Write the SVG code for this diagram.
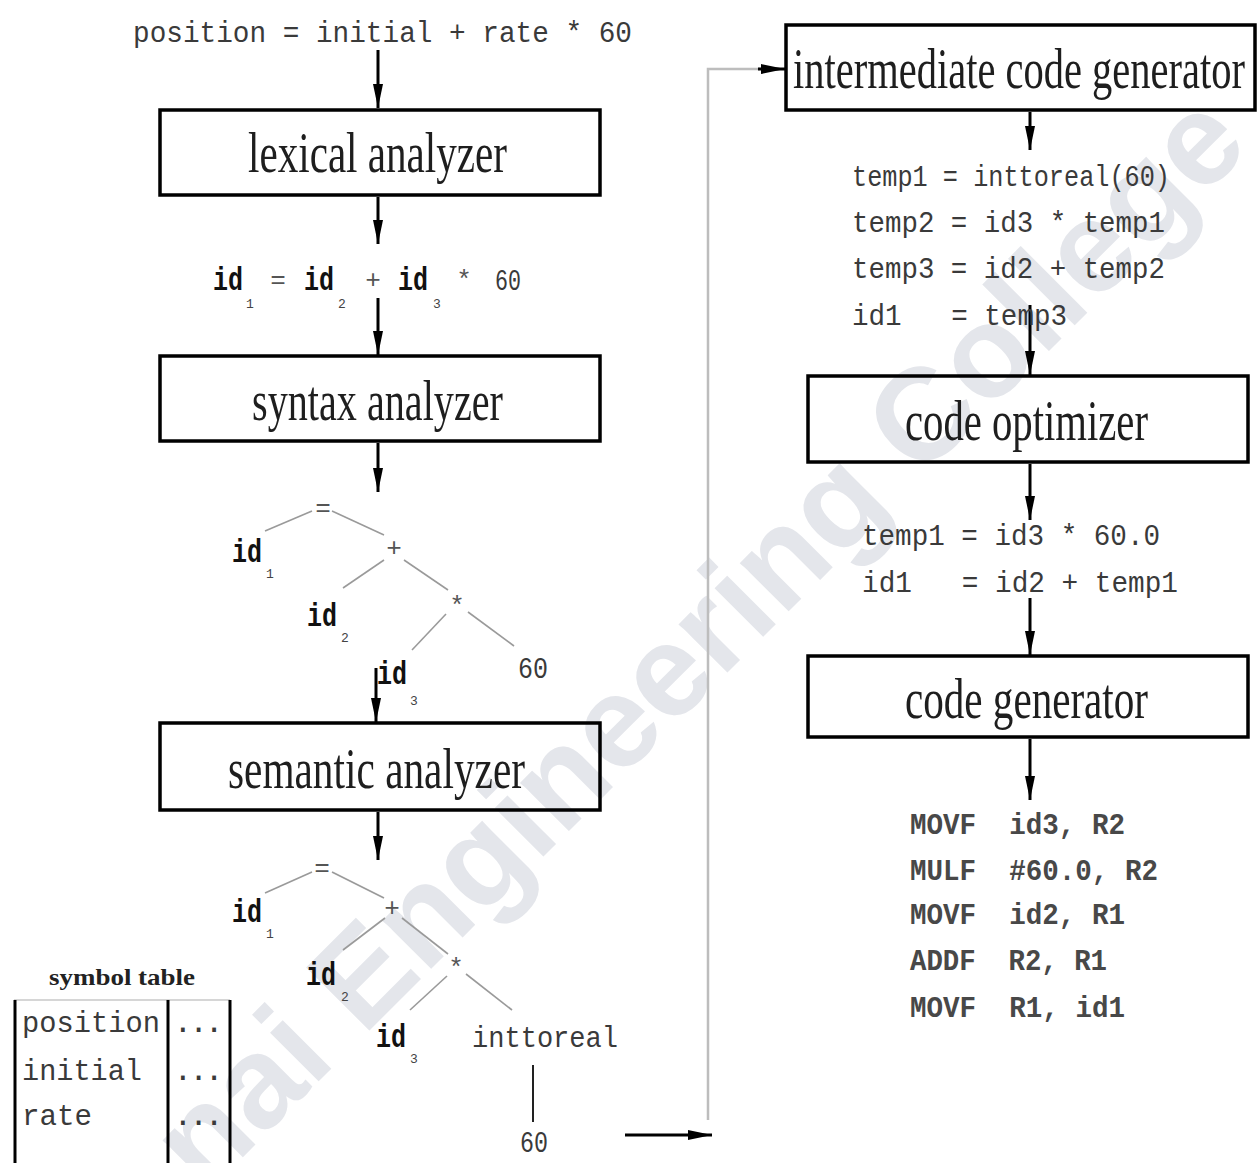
<svg xmlns="http://www.w3.org/2000/svg" width="1259" height="1163" viewBox="0 0 1259 1163">
  <style>
    .box { fill: none; stroke: #000; stroke-width: 3.5; }
    .lbl { font-family: "Liberation Serif", "Times New Roman", serif; font-size: 58px; fill: #1e1e1e; }
    .mono { font-family: "Liberation Mono", "Courier New", monospace; fill: #3a3a3a; }
    .code { font-size: 30px; }
    .asm { font-weight: bold; fill: #484848; }
    .id { font-family: "Liberation Mono", "Courier New", monospace; font-weight: bold; font-size: 34px; fill: #111; }
    .sub { font-family: "Liberation Mono", "Courier New", monospace; font-size: 13px; fill: #444; }
    .op { font-family: "Liberation Mono", "Courier New", monospace; font-size: 26px; fill: #555; text-anchor: middle; }
    .flow { stroke: #000; stroke-width: 3; fill: none; marker-end: url(#head); }
    .edge { stroke: #9a9a9a; stroke-width: 1.6; fill: none; }
    .mark { font-family: "Liberation Sans", Arial, sans-serif; font-weight: bold; font-size: 130px; fill: #e4e6eb; }
  </style>
  <defs>
    <marker id="head" markerUnits="userSpaceOnUse" markerWidth="26" markerHeight="12" refX="24" refY="6" orient="auto">
      <path d="M0,1 L24,6 L0,11 z" fill="#000"/>
    </marker>
  </defs>

  <rect width="1259" height="1163" fill="#fff"/>

  <!-- background watermark -->
  <text class="mark" transform="translate(205,1195) rotate(-45)">nai Engineering College</text>

  <!-- connectors -->
  <g id="connectors">
    <line class="flow" x1="378" y1="50" x2="378" y2="108"/>
    <line class="flow" x1="378" y1="197" x2="378" y2="244"/>
    <line class="flow" x1="378" y1="298" x2="378" y2="355"/>
    <line class="flow" x1="378" y1="443" x2="378" y2="492"/>
    <line class="flow" x1="376" y1="668" x2="376" y2="722"/>
    <line class="flow" x1="378" y1="812" x2="378" y2="860"/>
    <line class="flow" x1="625" y1="1135" x2="712" y2="1135"/>
    <!-- return path into the intermediate code generator -->
    <polyline points="708,1120 708,69 760,69" stroke="#bdbdbd" stroke-width="2.5" fill="none"/>
    <line class="flow" x1="758" y1="69" x2="785" y2="69"/>
    <line class="flow" x1="1030" y1="112" x2="1030" y2="150"/>
    <line class="flow" x1="1030" y1="305" x2="1030" y2="375"/>
    <line class="flow" x1="1030" y1="464" x2="1030" y2="520"/>
    <line class="flow" x1="1030" y1="598" x2="1030" y2="655"/>
    <line class="flow" x1="1030" y1="739" x2="1030" y2="800"/>
  </g>

  <!-- source statement -->
  <g id="source">
    <text class="mono code" x="133" y="42" textLength="499" lengthAdjust="spacingAndGlyphs">position = initial + rate * 60</text>
  </g>

  <g id="lexical-analyzer">
    <rect class="box" x="160" y="110" width="440" height="85"/>
    <text class="lbl" x="248" y="172" textLength="259" lengthAdjust="spacingAndGlyphs">lexical analyzer</text>
  </g>

  <g id="tokens">
    <text class="id" x="213" y="290" textLength="30" lengthAdjust="spacingAndGlyphs">id</text>
    <text class="sub" x="246" y="308">1</text>
    <text class="op" x="278" y="288">=</text>
    <text class="id" x="304" y="290" textLength="30" lengthAdjust="spacingAndGlyphs">id</text>
    <text class="sub" x="338" y="308">2</text>
    <text class="op" x="373" y="288">+</text>
    <text class="id" x="398" y="290" textLength="30" lengthAdjust="spacingAndGlyphs">id</text>
    <text class="sub" x="433" y="308">3</text>
    <text class="op" x="464" y="288">*</text>
    <text class="mono" x="495" y="290" font-size="30" textLength="26" lengthAdjust="spacingAndGlyphs">60</text>
  </g>

  <g id="syntax-analyzer">
    <rect class="box" x="160" y="356" width="440" height="85"/>
    <text class="lbl" x="252" y="420" textLength="251" lengthAdjust="spacingAndGlyphs">syntax analyzer</text>
  </g>

  <!-- syntax tree -->
  <g id="syntax-tree">
    <line class="edge" x1="312" y1="511" x2="265" y2="531"/>
    <line class="edge" x1="332" y1="511" x2="384" y2="535"/>
    <line class="edge" x1="384" y1="560" x2="343" y2="588"/>
    <line class="edge" x1="404" y1="560" x2="448" y2="590"/>
    <line class="edge" x1="446" y1="614" x2="412" y2="650"/>
    <line class="edge" x1="468" y1="612" x2="514" y2="646"/>
    <text class="op" x="323" y="516" font-size="22">=</text>
    <text class="id" x="232" y="562" textLength="30" lengthAdjust="spacingAndGlyphs">id</text>
    <text class="sub" x="266" y="578">1</text>
    <text class="op" x="394" y="556" font-size="22">+</text>
    <text class="id" x="307" y="626" textLength="30" lengthAdjust="spacingAndGlyphs">id</text>
    <text class="sub" x="341" y="642">2</text>
    <text class="op" x="457" y="614" font-size="22">*</text>
    <text class="id" x="377" y="684" textLength="30" lengthAdjust="spacingAndGlyphs">id</text>
    <text class="sub" x="410" y="705">3</text>
    <text class="mono" x="518" y="678" font-size="30" textLength="30" lengthAdjust="spacingAndGlyphs">60</text>
  </g>

  <g id="semantic-analyzer">
    <rect class="box" x="160" y="723" width="440" height="87"/>
    <text class="lbl" x="228" y="788" textLength="297" lengthAdjust="spacingAndGlyphs">semantic analyzer</text>
  </g>

  <!-- annotated tree -->
  <g id="semantic-tree">
    <line class="edge" x1="312" y1="872" x2="265" y2="893"/>
    <line class="edge" x1="332" y1="872" x2="384" y2="898"/>
    <line class="edge" x1="385" y1="918" x2="343" y2="950"/>
    <line class="edge" x1="402" y1="918" x2="448" y2="954"/>
    <line class="edge" x1="447" y1="976" x2="410" y2="1010"/>
    <line class="edge" x1="466" y1="974" x2="512" y2="1010"/>
    <line x1="533" y1="1065" x2="533" y2="1122" stroke="#222" stroke-width="2"/>
    <text class="op" x="322" y="876" font-size="22">=</text>
    <text class="id" x="232" y="922" textLength="30" lengthAdjust="spacingAndGlyphs">id</text>
    <text class="sub" x="266" y="938">1</text>
    <text class="op" x="392" y="916" font-size="22">+</text>
    <text class="id" x="306" y="985" textLength="30" lengthAdjust="spacingAndGlyphs">id</text>
    <text class="sub" x="341" y="1001">2</text>
    <text class="op" x="456" y="976" font-size="22">*</text>
    <text class="id" x="376" y="1047" textLength="30" lengthAdjust="spacingAndGlyphs">id</text>
    <text class="sub" x="410" y="1063">3</text>
    <text class="mono" x="472" y="1047" font-size="30" textLength="146" lengthAdjust="spacingAndGlyphs" fill="#222">inttoreal</text>
    <text class="mono" x="520" y="1152" font-size="30" textLength="28" lengthAdjust="spacingAndGlyphs">60</text>
  </g>

  <!-- symbol table -->
  <g id="symbol-table">
    <text x="122" y="985" text-anchor="middle" font-family="'Liberation Serif', serif" font-weight="bold" font-size="24" fill="#222" textLength="146" lengthAdjust="spacingAndGlyphs">symbol table</text>
    <line x1="14" y1="1000" x2="230" y2="1000" stroke="#c8c8c8" stroke-width="1.5"/>
    <line x1="15" y1="1000" x2="15" y2="1163" stroke="#000" stroke-width="3"/>
    <line x1="168" y1="1000" x2="168" y2="1163" stroke="#000" stroke-width="3"/>
    <line x1="230" y1="1000" x2="230" y2="1163" stroke="#000" stroke-width="3"/>
    <text class="mono code" x="22" y="1032" textLength="138" lengthAdjust="spacingAndGlyphs">position</text>
    <text class="mono code" x="22" y="1080" textLength="120" lengthAdjust="spacingAndGlyphs">initial</text>
    <text class="mono code" x="22" y="1125" textLength="70" lengthAdjust="spacingAndGlyphs">rate</text>
    <text class="mono code" x="175" y="1032" font-weight="bold" fill="#222" textLength="47" lengthAdjust="spacingAndGlyphs">...</text>
    <text class="mono code" x="175" y="1080" font-weight="bold" fill="#222" textLength="47" lengthAdjust="spacingAndGlyphs">...</text>
    <text class="mono code" x="175" y="1125" font-weight="bold" fill="#222" textLength="47" lengthAdjust="spacingAndGlyphs">...</text>
  </g>

  <g id="intermediate-code-generator">
    <rect class="box" x="786" y="25" width="469" height="85"/>
    <text class="lbl" x="793" y="88" textLength="452" lengthAdjust="spacingAndGlyphs">intermediate code generator</text>
  </g>

  <g id="three-address-code">
    <text class="mono code" xml:space="preserve" x="852" y="186" textLength="318" lengthAdjust="spacingAndGlyphs">temp1 = inttoreal(60)</text>
    <text class="mono code" xml:space="preserve" x="852" y="232" textLength="313" lengthAdjust="spacingAndGlyphs">temp2 = id3 * temp1</text>
    <text class="mono code" xml:space="preserve" x="852" y="278" textLength="313" lengthAdjust="spacingAndGlyphs">temp3 = id2 + temp2</text>
    <text class="mono code" xml:space="preserve" x="852" y="325" textLength="215" lengthAdjust="spacingAndGlyphs">id1   = temp3</text>
  </g>

  <g id="code-optimizer">
    <rect class="box" x="808" y="376" width="440" height="86"/>
    <text class="lbl" x="905" y="440" textLength="243" lengthAdjust="spacingAndGlyphs">code optimizer</text>
  </g>

  <g id="optimized-code">
    <text class="mono code" xml:space="preserve" x="862" y="545" textLength="298" lengthAdjust="spacingAndGlyphs">temp1 = id3 * 60.0</text>
    <text class="mono code" xml:space="preserve" x="862" y="592" textLength="316" lengthAdjust="spacingAndGlyphs">id1   = id2 + temp1</text>
  </g>

  <g id="code-generator">
    <rect class="box" x="808" y="656" width="440" height="81"/>
    <text class="lbl" x="905" y="718" textLength="243" lengthAdjust="spacingAndGlyphs">code generator</text>
  </g>

  <g id="target-code">
    <text class="mono code asm" xml:space="preserve" x="910" y="834" textLength="215" lengthAdjust="spacingAndGlyphs">MOVF  id3, R2</text>
    <text class="mono code asm" xml:space="preserve" x="910" y="880" textLength="248" lengthAdjust="spacingAndGlyphs">MULF  #60.0, R2</text>
    <text class="mono code asm" xml:space="preserve" x="910" y="924" textLength="215" lengthAdjust="spacingAndGlyphs">MOVF  id2, R1</text>
    <text class="mono code asm" xml:space="preserve" x="910" y="970" textLength="197" lengthAdjust="spacingAndGlyphs">ADDF  R2, R1</text>
    <text class="mono code asm" xml:space="preserve" x="910" y="1017" textLength="215" lengthAdjust="spacingAndGlyphs">MOVF  R1, id1</text>
  </g>
</svg>
